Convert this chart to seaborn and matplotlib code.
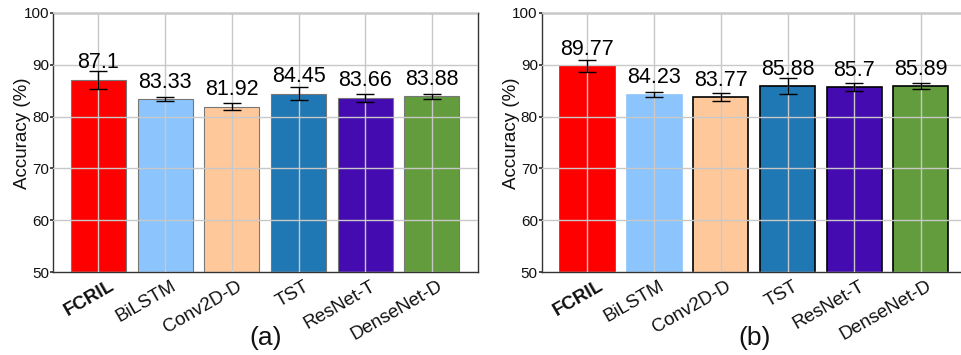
import matplotlib
matplotlib.use("Agg")
import matplotlib.pyplot as plt
import matplotlib.transforms as mtransforms
import seaborn as sns
import pandas as pd

methods = ["FCRIL", "BiLSTM", "Conv2D-D", "TST", "ResNet-T", "DenseNet-D"]
acc_a = [87.1, 83.33, 81.92, 84.45, 83.66, 83.88]
err_a = [1.75, 0.38, 0.70, 1.20, 0.78, 0.55]
acc_b = [89.77, 84.23, 83.77, 85.88, 85.7, 85.89]
err_b = [1.23, 0.50, 0.80, 1.50, 0.80, 0.65]
colors = ["#ff0000", "#8cc5fd", "#ffc89a", "#1f77b4", "#430bb0", "#639c3c"]
panel_labels = ["(a)", "(b)"]

sns.set_theme(style="whitegrid")
plt.rcParams['font.family'] = ['Liberation Sans', 'DejaVu Sans']

fig = plt.figure(figsize=(9.61, 3.55), dpi=100)
ax1 = fig.add_axes([0.0552, 0.2338, 0.4422, 0.7296])
ax2 = fig.add_axes([0.5640, 0.2338, 0.4422, 0.7296])

def draw(ax, acc, err, label, edgecols, lw):
    df = pd.DataFrame({"method": methods, "acc": acc})
    sns.barplot(data=df, x="method", y="acc", hue="method", palette=colors,
                legend=False, ax=ax, width=0.825, errorbar=None, saturation=1)
    for patch, ec in zip(ax.patches, edgecols):
        patch.set_edgecolor(ec)
        patch.set_linewidth(lw)
    xs = list(range(len(methods)))
    ax.errorbar(xs, acc, yerr=err, fmt="none", ecolor="black", elinewidth=1,
                capsize=6.5, capthick=1, zorder=5)
    for x, v in zip(xs, acc):
        ax.text(x, v + 2.2, f"{v:g}", ha="center", va="baseline", fontsize=15.5,
                color="black", zorder=6)
    ax.set_ylim(50, 100)
    ax.set_xlim(-0.68, 5.69)
    ax.set_yticks([50, 60, 70, 80, 90, 100])
    ax.set_ylabel("Accuracy (%)", fontsize=13.5, color="#111111")
    ax.yaxis.set_label_coords(-0.052, 0.535)
    ax.set_xlabel(label, fontsize=19, color="#111111", labelpad=-13)
    ax.set_axisbelow(False)
    ax.grid(True, color="#c8c8c8", linewidth=1)
    ax.set_xticks(xs)
    ax.set_xticklabels(methods, rotation=30, ha="right", va="top",
                       rotation_mode="anchor", fontsize=13.5, color="#111111")
    ax.get_xticklabels()[0].set_fontweight("bold")
    ax.tick_params(axis="y", labelsize=11, labelcolor="#111111", length=2,
                   color="#333333", pad=1, left=True)
    ax.tick_params(axis="x", length=0, pad=4)
    for s in ax.spines.values():
        s.set_visible(True)
        s.set_color("#333333")
        s.set_linewidth(1)
    for i, t in enumerate(ax.get_xticklabels()):
        dx = 11 if i == 0 else 5
        t.set_transform(t.get_transform() +
                        mtransforms.ScaledTranslation(dx / 100, 0, fig.dpi_scale_trans))

draw(ax1, acc_a, err_a, panel_labels[0], ["#777777"] * 6, 0.8)
draw(ax2, acc_b, err_b, panel_labels[1],
     ["#ff0000", "#8cc5fd", "black", "black", "black", "black"], 1.2)

fig.savefig("out.png", dpi=100)
